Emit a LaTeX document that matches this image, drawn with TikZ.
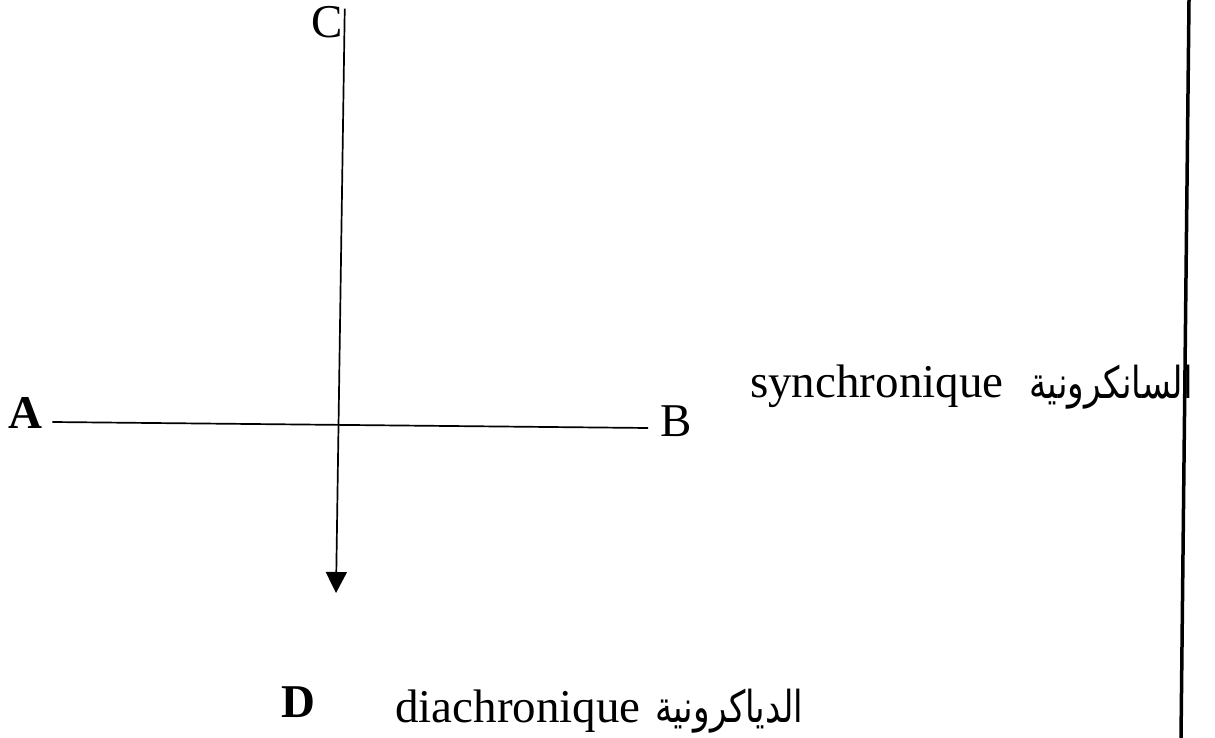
\documentclass[tikz,border=0pt]{standalone}
\usepackage{fontspec}
\setmainfont{Liberation Serif}
\newfontfamily\arabicfont[Script=Arabic]{DejaVu Sans}
\TeXXeTstate=1
\usetikzlibrary{arrows.meta}
\newcommand{\artext}[1]{\scalebox{0.78}[1]{\arabicfont\beginR #1\endR}}
\tikzset{
  lbl/.style={inner sep=0pt, font=\fontsize{47}{50}\selectfont},
  blbl/.style={inner sep=0pt, font=\fontsize{47}{50}\selectfont\bfseries},
  arlbl/.style={inner sep=0pt, font=\fontsize{44}{48}\selectfont},
  axis/.style={line width=1.7pt, black},
  rule/.style={line width=3.5pt, black}
}
\begin{document}
\begin{tikzpicture}[x=1pt,y=-1pt]
\useasboundingbox (0,0) rectangle (1215,738);
\node[blbl, anchor=base west] (A) at (8,428) {A};
\node[lbl, anchor=base west] (B) at (660,436) {B};
\node[lbl, anchor=base west] (C) at (311,38) {C};
\coordinate (Dtip) at (336,593);
\draw[axis] ([xshift=10pt,yshift=6pt]A.base east) -- ([xshift=-12pt,yshift=8pt]B.base west);
\draw[axis, -{Triangle[length=21pt,width=21pt]}] ([xshift=2pt,yshift=-2pt]C.north east) -- (Dtip);
\node[lbl, anchor=base west] (syn) at (750,397) {synchronique};
\node[arlbl, anchor=base east] (synar) at (1193,398) {\artext{السانكرونية}};
\node[blbl, anchor=base west] (D) at (281,717) {D};
\node[lbl, anchor=base west] (dia) at (395,722) {diachronique};
\node[arlbl, anchor=base west] (diaar) at (655,722) {\artext{الدياكرونية}};
\draw[rule] (1189,0) -- (1181,738);
\end{tikzpicture}
\end{document}
